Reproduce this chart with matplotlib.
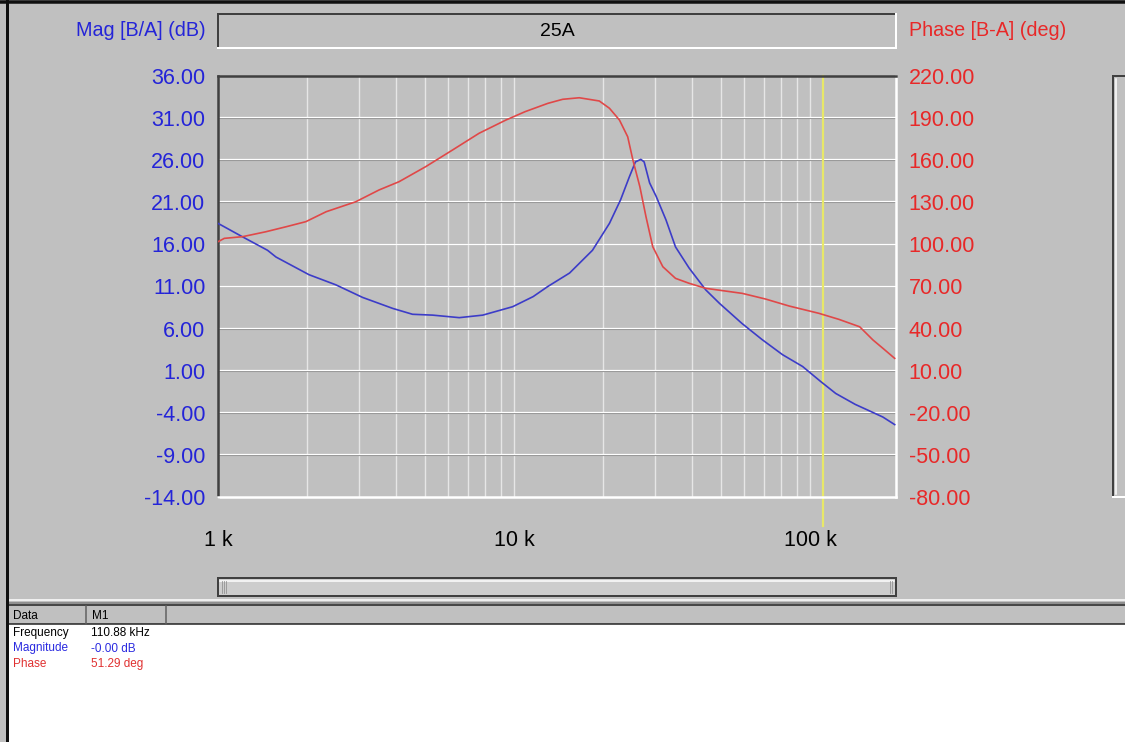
import numpy as np
import matplotlib
matplotlib.use("Agg")
import matplotlib.pyplot as plt
from matplotlib.lines import Line2D
from matplotlib.patches import Rectangle
from matplotlib.ticker import FixedLocator, NullFormatter

plt.rcParams['font.family'] = ['Liberation Sans', 'DejaVu Sans']

# --- data (frequency in kHz) ---
mag_freq = [1.0, 1.21, 1.47, 1.57, 2.03, 2.5, 3.08, 3.89, 4.54, 5.31, 6.53, 7.84,
            9.89, 11.6, 13.0, 15.4, 18.4, 21.0, 22.9, 24.5, 25.7, 26.8, 27.5,
            28.7, 30.2, 32.6, 35.1, 39.0, 44.4, 49.4, 58.9, 68.8, 80.7, 94.3,
            108.7, 122.0, 142.0, 157.0, 176.0, 193.0]
mag_db = [18.5, 16.9, 15.3, 14.5, 12.4, 11.2, 9.7, 8.4, 7.7, 7.6, 7.3, 7.6,
          8.6, 9.8, 11.0, 12.6, 15.3, 18.5, 21.3, 24.0, 25.8, 26.1, 25.8,
          23.3, 21.7, 18.9, 15.7, 13.2, 10.6, 9.0, 6.6, 4.7, 2.9, 1.5,
          -0.3, -1.7, -3.0, -3.7, -4.5, -5.4]

phase_freq = [1.0, 1.05, 1.21, 1.45, 1.70, 1.98, 2.32, 2.92, 3.5, 4.09, 5.03,
              6.2, 7.62, 9.38, 10.9, 13.0, 14.6, 16.6, 19.4, 21.0, 22.7, 24.2,
              25.2, 26.6, 27.9, 29.4, 31.8, 35.1, 39.0, 44.4, 50.8, 59.0, 70.6,
              84.9, 107.0, 125.0, 147.0, 163.0, 176.0, 193.0]
phase_deg = [101.9, 104.3, 105.5, 109.0, 112.6, 116.2, 123.3, 130.4, 138.8,
             144.7, 155.4, 167.3, 179.2, 188.6, 194.6, 200.5, 203.4, 204.5,
             202.2, 197.0, 188.6, 176.7, 160.1, 141.1, 119.7, 98.4, 84.1, 75.8,
             72.3, 68.7, 67.0, 65.1, 61.1, 56.1, 50.9, 46.6, 41.3, 31.9, 26.0,
             18.8]

mag_ticks = [36, 31, 26, 21, 16, 11, 6, 1, -4, -9, -14]
phase_ticks = [220, 190, 160, 130, 100, 70, 40, 10, -20, -50, -80]
freq_ticks = [1, 10, 100]
freq_labels = ["1 k", "10 k", "100 k"]
marker_freq = 110.88
readout_rows = ["Frequency", "Magnitude", "Phase"]
readout_vals = ["110.88 kHz", "-0.00 dB", "51.29 deg"]

BG = "#c0c0c0"
DARK = "#404040"
BLUE_TXT = "#2424d8"
RED_TXT = "#e82828"

W, H = 1125, 742
fig = plt.figure(figsize=(W / 100, H / 100), dpi=100, facecolor=BG)


def fx(x):
    return x / W


def fy(y):
    return 1 - y / H


def line(x0, y0, x1, y1, color, lw=1.0, z=5):
    fig.add_artist(Line2D([fx(x0), fx(x1)], [fy(y0), fy(y1)], color=color,
                          lw=lw * 0.72, transform=fig.transFigure, zorder=z))


def rect(x0, y0, x1, y1, fc, ec="none", z=1):
    fig.add_artist(Rectangle((fx(x0), fy(y1)), fx(x1) - fx(x0), fy(y0) - fy(y1),
                             facecolor=fc, edgecolor=ec, transform=fig.transFigure,
                             zorder=z))


def sunken(x0, y0, x1, y1):
    line(x0, y0, x1, y0, DARK, 2)
    line(x0, y0, x0, y1, DARK, 2)
    line(x0, y1, x1, y1, "white", 2)
    line(x1, y0, x1, y1, "white", 2)


# --- main plot ---
L, T, R, B = 218, 76, 896, 497
ax = fig.add_axes([fx(L), fy(B), fx(R) - fx(L), fy(T) - fy(B)])
ax.set_facecolor(BG)
ax.set_xscale("log")
ax.set_xlim(1, 195)
ax.set_ylim(-14, 36)

minor = [m * d for d in (1, 10, 100) for m in range(2, 10) if m * d < 195]
for f in minor + freq_ticks[1:]:
    ax.axvline(f, color="#e6e6e6", lw=1.0, zorder=0)
for v in mag_ticks[1:-1]:
    ax.axhline(v, color="#8c8c8c", lw=0.8, zorder=0)
    ax.axhline(v + 0.1, color="white", lw=0.9, zorder=0)

ax.plot(mag_freq, mag_db, color="#3c3cc8", lw=1.2, zorder=3)

ax.set_yticks(mag_ticks)
ax.set_yticklabels([f"{v:.2f}" for v in mag_ticks])
ax.tick_params(axis="y", length=0, pad=9, labelsize=15.5, labelcolor=BLUE_TXT)
ax.xaxis.set_major_locator(FixedLocator(freq_ticks))
ax.xaxis.set_minor_locator(FixedLocator(minor))
ax.xaxis.set_minor_formatter(NullFormatter())
ax.set_xticklabels(freq_labels)
ax.tick_params(axis="x", which="both", length=0, pad=24, labelsize=15.5,
               labelcolor="black")

for s in ("top", "left"):
    ax.spines[s].set_color(DARK)
    ax.spines[s].set_linewidth(1.8)
for s in ("bottom", "right"):
    ax.spines[s].set_color("white")
    ax.spines[s].set_linewidth(1.8)

ax2 = ax.twinx()
ax2.set_ylim(-80, 220)
ax2.plot(phase_freq, phase_deg, color="#e04848", lw=1.2, zorder=3)
ax2.set_yticks(phase_ticks)
ax2.set_yticklabels([f"{v:.2f}" for v in phase_ticks])
ax2.tick_params(axis="y", length=0, pad=9, labelsize=15.5, labelcolor=RED_TXT)
for s in ax2.spines.values():
    s.set_visible(False)

# marker M1
ax.axvline(marker_freq, ymin=-0.07, ymax=1, color="#e8e868", lw=1.6,
           zorder=2, clip_on=False)

# --- titles and header box ---
sunken(218, 14, 896, 48)
fig.text(fx(557), fy(31), "25A", ha="center", va="center", fontsize=14)
fig.text(fx(206), fy(31), "Mag [B/A] (dB)", ha="right", va="center",
         fontsize=14.2, color=BLUE_TXT)
fig.text(fx(909), fy(31), "Phase [B-A] (deg)", ha="left", va="center",
         fontsize=14.2, color=RED_TXT)

# scroll bar under the plot
rect(218, 578, 896, 596, "#cdcdcd", z=1)
line(218, 578, 896, 578, DARK, 2)
line(218, 596, 896, 596, DARK, 2)
line(218, 578, 218, 596, DARK, 2)
line(896, 578, 896, 596, DARK, 2)
line(220, 581, 894, 581, "white", 1.5)
for x in (222, 224, 226, 890, 892):
    line(x, 581, x, 593, "#909090", 0.8)

# right side panel (cut off)
line(1113, 76, 1125, 76, DARK, 2)
line(1113, 76, 1113, 497, DARK, 2)
line(1113, 497, 1125, 497, "white", 2)
line(1116, 79, 1116, 494, "white", 1.5)

# --- lower readout panel ---
rect(8, 624, 1125, 742, "white", z=1)
line(8, 600, 1125, 600, "white", 1.5)
line(8, 603, 1125, 603, "#808080", 1.5)
line(8, 605, 1125, 605, "#202020", 1.5)
line(8, 624, 1125, 624, "#202020", 1.5)
line(86, 606, 86, 624, "#606060", 1.5)
line(166, 606, 166, 624, "#606060", 1.5)
fig.text(fx(13), fy(616), "Data", ha="left", va="center", fontsize=8.5)
fig.text(fx(92), fy(616), "M1", ha="left", va="center", fontsize=8.5)
row_colors = ["black", "#2a2ae0", "#e03030"]
for i, (name, val) in enumerate(zip(readout_rows, readout_vals)):
    yy = 633 + i * 15.5
    fig.text(fx(13), fy(yy), name, ha="left", va="center", fontsize=8.5,
             color=row_colors[i])
    fig.text(fx(91), fy(yy), val, ha="left", va="center", fontsize=8.5,
             color=row_colors[i])

# window frame
line(0, 1.5, 1125, 1.5, "#101010", 3.5, z=10)
line(7, 0, 7, 742, "#101010", 3, z=10)

fig.savefig("out.png", dpi=100, facecolor=BG)
